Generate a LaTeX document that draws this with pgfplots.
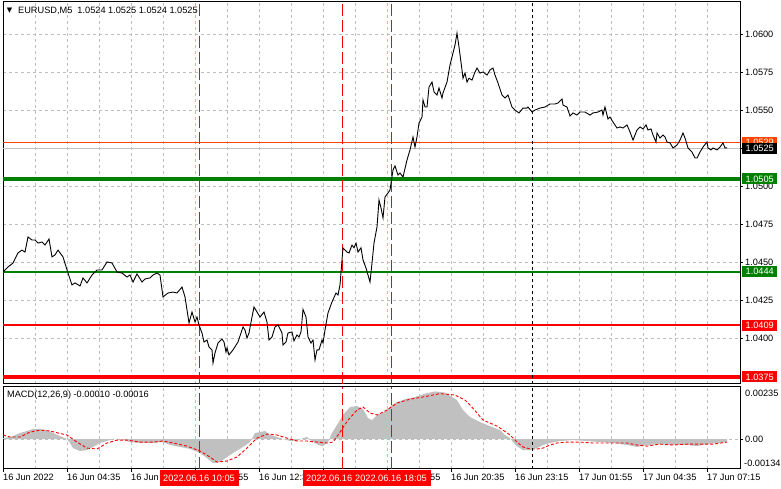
\documentclass[border=0pt]{standalone}
\usepackage{fontspec}
\setmainfont{Liberation Sans}
\newfontfamily\djv{DejaVu Sans}
\usepackage{pgfplots}
\pgfplotsset{compat=1.18}
\definecolor{mtgreen}{RGB}{0,128,0}
\definecolor{mtred}{RGB}{255,0,0}
\definecolor{mtorange}{RGB}{255,69,0}
\definecolor{mtsilver}{RGB}{192,192,192}
\definecolor{mtgrid}{RGB}{190,190,190}
\newcommand{\mtfont}{\fontsize{9.2}{11}\selectfont}
\pgfplotsset{
  mtbase/.style={
    scale only axis, width=737pt,
    xmin=3, xmax=740,
    scaled x ticks=false, scaled y ticks=false,
    axis line style={black, line width=1pt},
    xtick={67,131,195,259,323,387,451,515,579,643,707},
    minor xtick={35,99,163,227,291,355,419,483,547,611,675},
    xmajorgrids, xminorgrids, ymajorgrids,
    minor tick length=0pt,
    tick align=outside, major tick length=3pt,
    ytick pos=right, yticklabel pos=right,
    grid style={color=mtgrid, dash pattern=on 3pt off 3pt, line width=0.9pt},
    minor grid style={color=mtgrid, dash pattern=on 3pt off 3pt, line width=0.9pt},
    tick label style={font=\mtfont, text=black},
    yticklabel style={anchor=west, inner xsep=2pt},
    tick style={black, line width=0.9pt},
  }
}
\begin{document}
\mtfont
\begin{tikzpicture}[x=1pt,y=1pt]
\useasboundingbox (0,0) rectangle (781,489);

% ---------------- price panel ----------------
\begin{axis}[mtbase,
  at={(3pt,105pt)}, anchor=south west, height=382pt,
  ymin=1.03703, ymax=1.06213,
  xticklabels={}, xtick style={draw=none},
  ytick={1.04,1.0425,1.045,1.0475,1.05,1.0525,1.055,1.0575,1.06},
  yticklabels={1.0400,1.0425,1.0450,1.0475,1.0500,1.0525,1.0550,1.0575,1.0600},
]
% level lines
\addplot[mtgreen, line width=4pt] coordinates {(3,1.0505) (740,1.0505)};
\addplot[mtgreen, line width=2.2pt] coordinates {(3,1.0444) (740,1.0444)};
\addplot[mtred, line width=2.2pt] coordinates {(3,1.0409) (740,1.0409)};
\addplot[mtred, line width=4.5pt] coordinates {(3,1.0375) (740,1.0375)};
% ask / bid lines
\addplot[mtsilver, line width=1pt] coordinates {(3,1.0525) (740,1.0525)};
\addplot[mtorange, line width=1pt] coordinates {(3,1.0529) (740,1.0529)};
% vertical markers
\addplot[mtred, line width=1pt, dash pattern=on 12pt off 4pt] coordinates {(199,1.03703) (199,1.06213)};
\addplot[mtred, line width=1pt, dash pattern=on 12pt off 4pt] coordinates {(342,1.03703) (342,1.06213)};
\addplot[mtred, line width=1pt, dash pattern=on 12pt off 4pt] coordinates {(391,1.03703) (391,1.06213)};
\addplot[black, line width=1pt, dash pattern=on 3pt off 3pt] coordinates {(532,1.03703) (532,1.06213)};
% EURUSD M5 close
\addplot[black, line width=0.9pt] coordinates {
(3,1.04439) (8,1.04472) (13,1.04498) (18,1.04564) (22,1.04583) (25,1.04570)
(28,1.04669) (32,1.04649) (35,1.04649) (38,1.04629) (42,1.04636) (45,1.04616)
(49,1.04656) (52,1.04538) (55,1.04551) (58,1.04583) (63,1.04538) (68,1.04432)
(72,1.04354) (75,1.04367) (80,1.04347) (83,1.04400) (87,1.04367) (92,1.04419)
(97,1.04452) (102,1.04452) (107,1.04505) (112,1.04498) (117,1.04439) (122,1.04432)
(127,1.04406) (130,1.04419) (133,1.04373) (137,1.04426) (142,1.04373) (145,1.04393)
(150,1.04400) (153,1.04419) (157,1.04432) (160,1.04419) (163,1.04275) (168,1.04301)
(173,1.04307) (177,1.04301) (182,1.04340) (185,1.04275) (189,1.04104) (192,1.04176)
(195,1.04111) (197,1.04143) (199,1.04091) (202,1.04038) (204,1.03979) (207,1.03992)
(209,1.03946) (212,1.03927) (213,1.03841) (215,1.03907) (218,1.03972) (222,1.03999)
(224,1.03979) (226,1.03913) (227,1.03940) (229,1.03894) (233,1.03927) (238,1.03979)
(243,1.04078) (245,1.04058) (247,1.04005) (249,1.04038) (252,1.04143) (254,1.04209)
(257,1.04176) (260,1.04143) (264,1.04176) (267,1.04110) (269,1.03992) (272,1.04012)
(275,1.04078) (278,1.04091) (282,1.04038) (283,1.03959) (286,1.03979) (288,1.04038)
(292,1.04045) (294,1.03986) (297,1.04025) (299,1.04012) (301,1.04045) (303,1.04193)
(306,1.04143) (308,1.04012) (311,1.03972) (313,1.03992) (315,1.03861) (317,1.03927)
(319,1.03927) (322,1.03992) (323,1.03972) (325,1.04058) (328,1.04170) (332,1.04242)
(336,1.04301) (338,1.04288) (340,1.04354) (342,1.04518) (343,1.04597) (347,1.04570)
(349,1.04564) (352,1.04616) (354,1.04598) (356,1.04629) (358,1.04570) (361,1.04598)
(363,1.04518) (366,1.04465) (368,1.04419) (370,1.04373) (372,1.04498) (374,1.04629)
(377,1.04735) (379,1.04912) (381,1.04860) (383,1.04794) (385,1.04932) (388,1.04958)
(390,1.04978) (393,1.05109) (395,1.05136) (398,1.05076) (400,1.05089) (403,1.05063)
(407,1.05175) (410,1.05241) (413,1.05326) (415,1.05260) (417,1.05326) (419,1.05418)
(422,1.05457) (423,1.05569) (425,1.05523) (427,1.05523) (429,1.05654) (432,1.05687)
(434,1.05622) (437,1.05602) (439,1.05648) (442,1.05582) (443,1.05615) (447,1.05687)
(450,1.05799) (453,1.05878) (455,1.05930) (457,1.06009) (459,1.05917) (462,1.05766)
(463,1.05712) (465,1.05746) (467,1.05687) (469,1.05712) (472,1.05700) (475,1.05753)
(477,1.05779) (480,1.05746) (483,1.05753) (487,1.05733) (490,1.05766) (493,1.05779)
(495,1.05733) (498,1.05681) (502,1.05602) (505,1.05582) (508,1.05602) (512,1.05523)
(515,1.05503) (519,1.05484) (523,1.05516) (527,1.05516) (528,1.05523) (532,1.05490)
(535,1.05503) (540,1.05516) (545,1.05523) (550,1.05543) (555,1.05543) (558,1.05549)
(562,1.05576) (563,1.05536) (567,1.05523) (570,1.05464) (573,1.05484) (577,1.05470)
(580,1.05490) (585,1.05490) (590,1.05470) (593,1.05484) (598,1.05490) (602,1.05503)
(603,1.05470) (605,1.05523) (608,1.05444) (610,1.05457) (613,1.05424) (617,1.05385)
(620,1.05392) (623,1.05385) (627,1.05405) (630,1.05359) (633,1.05306) (637,1.05372)
(640,1.05392) (643,1.05379) (646,1.05405) (648,1.05372) (651,1.05379) (653,1.05339)
(656,1.05293) (657,1.05352) (660,1.05319) (663,1.05339) (665,1.05326) (667,1.05293)
(670,1.05287) (673,1.05254) (677,1.05273) (680,1.05306) (683,1.05352) (685,1.05319)
(688,1.05254) (692,1.05227) (695,1.05188) (697,1.05188) (700,1.05227) (703,1.05260)
(707,1.05293) (708,1.05254) (711,1.05241) (713,1.05254) (717,1.05241) (720,1.05260)
(723,1.05287) (725,1.05254) (727,1.05254)
};
\coordinate (p0529) at (axis cs:740,1.0529);
\coordinate (p0525) at (axis cs:740,1.0525);
\coordinate (p0505) at (axis cs:740,1.0505);
\coordinate (p0444) at (axis cs:740,1.0444);
\coordinate (p0409) at (axis cs:740,1.0409);
\coordinate (p0375) at (axis cs:740,1.0375);
\end{axis}

% ---------------- MACD panel ----------------
\begin{axis}[mtbase,
  at={(3pt,20pt)}, anchor=south west, height=82pt,
  ymin=-0.00134, ymax=0.00235,
  xtick pos=lower,
  xticklabels={16 Jun 04:35,16 Jun 07:15,16 Jun 09:55,16 Jun 12:35,16 Jun 15:15,16 Jun 17:55,16 Jun 20:35,16 Jun 23:15,17 Jun 01:55,17 Jun 04:35,17 Jun 07:15},
  extra x ticks={3}, extra x tick labels={16 Jun 2022}, extra x tick style={grid=none},
  xticklabel style={anchor=north west, inner xsep=0pt, inner ysep=2pt},
  ytick={0}, yticklabels={0.00},
]
% histogram
\addplot[fill=mtsilver, draw=none] coordinates {
(3,0) (3,0.00004) (13,0.00014) (20,0.00028) (27,0.00037) (33,0.00046) (40,0.00046)
(47,0.00041) (53,0.00028) (60,0.00014) (65,0.00005) (67,0.00001) (70,-0.00017)
(73,-0.00040) (80,-0.00053) (87,-0.00049) (93,-0.00035) (100,-0.00017) (107,-0.00008)
(113,0.00001) (120,0.00001) (130,-0.00013) (140,-0.00017) (153,-0.00017) (163,-0.00013)
(170,-0.00026) (180,-0.00035) (190,-0.00044) (200,-0.00062) (207,-0.00085) (213,-0.00107)
(220,-0.00103) (227,-0.00080) (233,-0.00062) (243,-0.00035) (250,-0.00013) (255,0.00028)
(260,0.00032) (265,0.00037) (270,0.00019) (277,0.00010) (283,0.00001) (290,-0.00008)
(297,-0.00008) (303,0.00005) (307,0.00010) (312,-0.00008) (318,-0.00026) (323,-0.00031)
(328,-0.00013) (332,0.00028) (337,0.00064) (343,0.00109) (350,0.00145) (357,0.00149)
(363,0.00136) (368,0.00095) (372,0.00086) (377,0.00109) (383,0.00118) (392,0.00154)
(397,0.00167) (405,0.00180) (415,0.00190) (425,0.00205) (435,0.00215) (445,0.00210)
(452,0.00190) (457,0.00176) (463,0.00131) (470,0.00100) (480,0.00077) (490,0.00059)
(500,0.00041) (505,0.00019) (510,0.00005) (513,-0.00013) (518,-0.00035) (523,-0.00049)
(530,-0.00049) (537,-0.00040) (543,-0.00026) (550,-0.00017) (560,-0.00008) (573,-0.00004)
(587,-0.00008) (600,-0.00013) (613,-0.00017) (627,-0.00026) (637,-0.00035) (647,-0.00026)
(660,-0.00022) (673,-0.00026) (687,-0.00026) (697,-0.00031) (707,-0.00022) (717,-0.00017)
(727,-0.00013) (727,0)
};
% signal line
\addplot[mtred, line width=0.9pt, dash pattern=on 3pt off 2pt] coordinates {
(3,0.00019) (10,0.00010) (20,0.00010) (30,0.00032) (40,0.00041) (50,0.00037)
(58,0.00028) (67,0.00019) (77,-0.00013) (87,-0.00040) (97,-0.00044) (107,-0.00017)
(117,-0.00004) (127,-0.00004) (140,-0.00013) (153,-0.00013) (163,-0.00008) (173,-0.00017)
(187,-0.00031) (200,-0.00053) (210,-0.00080) (217,-0.00103) (227,-0.00098) (237,-0.00080)
(247,-0.00040) (257,0.00005) (267,0.00023) (277,0.00019) (287,0.00005) (297,-0.00008)
(307,-0.00008) (317,-0.00013) (327,-0.00017) (333,-0.00013) (340,0.00032) (348,0.00086)
(357,0.00131) (363,0.00145) (370,0.00118) (377,0.00109) (387,0.00131) (397,0.00163)
(410,0.00180) (423,0.00190) (440,0.00205) (455,0.00199) (465,0.00176) (470,0.00154)
(477,0.00118) (483,0.00086) (490,0.00073) (497,0.00059) (503,0.00041) (510,0.00019)
(517,-0.00013) (523,-0.00035) (530,-0.00044) (537,-0.00044) (543,-0.00040) (550,-0.00026)
(557,-0.00017) (567,-0.00013) (580,-0.00013) (593,-0.00017) (607,-0.00017) (617,-0.00017)
(627,-0.00017) (637,-0.00026) (647,-0.00031) (660,-0.00022) (673,-0.00026) (687,-0.00022)
(700,-0.00022) (713,-0.00022) (727,-0.00013)
};
\addplot[mtred, line width=1pt, dash pattern=on 12pt off 4pt] coordinates {(199,-0.00134) (199,0.00235)};
\addplot[mtred, line width=1pt, dash pattern=on 12pt off 4pt] coordinates {(342,-0.00134) (342,0.00235)};
\addplot[mtred, line width=1pt, dash pattern=on 12pt off 4pt] coordinates {(391,-0.00134) (391,0.00235)};
\addplot[black, line width=1pt, dash pattern=on 3pt off 3pt] coordinates {(532,-0.00134) (532,0.00235)};
\coordinate (mtop) at (rel axis cs:1,1);
\coordinate (mbot) at (rel axis cs:1,0);
\coordinate (v1) at (axis cs:199,-0.00134);
\coordinate (v2) at (axis cs:342,-0.00134);
\coordinate (v3) at (axis cs:391,-0.00134);
\end{axis}

% header texts
\node[anchor=center, inner sep=0pt] at (9.5,478) {\djv\fontsize{7}{7}\selectfont ▼};
\node[anchor=west, inner sep=0pt] at (18,478.5) {EURUSD,M5~~1.0524 1.0525 1.0524 1.0525};
\node[anchor=west, inner sep=0pt] at (7,93.5) {MACD(12,26,9) -0.00010 -0.00016};

% MACD scale labels
\node[anchor=north west, inner xsep=0pt, inner ysep=1pt, xshift=5pt, yshift=-2pt] at (mtop) {0.00235};
\node[anchor=south west, inner xsep=0pt, inner ysep=1pt, xshift=4pt, yshift=1pt] at (mbot) {-0.00134};

% price boxes on the right
\tikzset{pbox/.style={anchor=west, xshift=2pt, inner xsep=0pt, inner ysep=0pt, minimum width=35pt, minimum height=11pt, text=white, font=\mtfont}}
\node[pbox, fill=mtorange] at (p0529) {1.0529};
\node[pbox, fill=black] at (p0525) {1.0525};
\node[pbox, fill=mtgreen] at (p0505) {1.0505};
\node[pbox, fill=mtgreen] at (p0444) {1.0444};
\node[pbox, fill=mtred] at (p0409) {1.0409};
\node[pbox, fill=mtred] at (p0375) {1.0375};

% date boxes on the time axis
\tikzset{dbox/.style={anchor=north, yshift=-1pt, inner xsep=0pt, inner ysep=0pt, minimum width=79pt, minimum height=16pt, fill=mtred, text=white, font=\mtfont}}
\node[dbox] at (v1) {2022.06.16 10:05};
\node[dbox] at (v2) {2022.06.16 16:05};
\node[dbox] at (v3) {2022.06.16 18:05};
\end{tikzpicture}
\end{document}
